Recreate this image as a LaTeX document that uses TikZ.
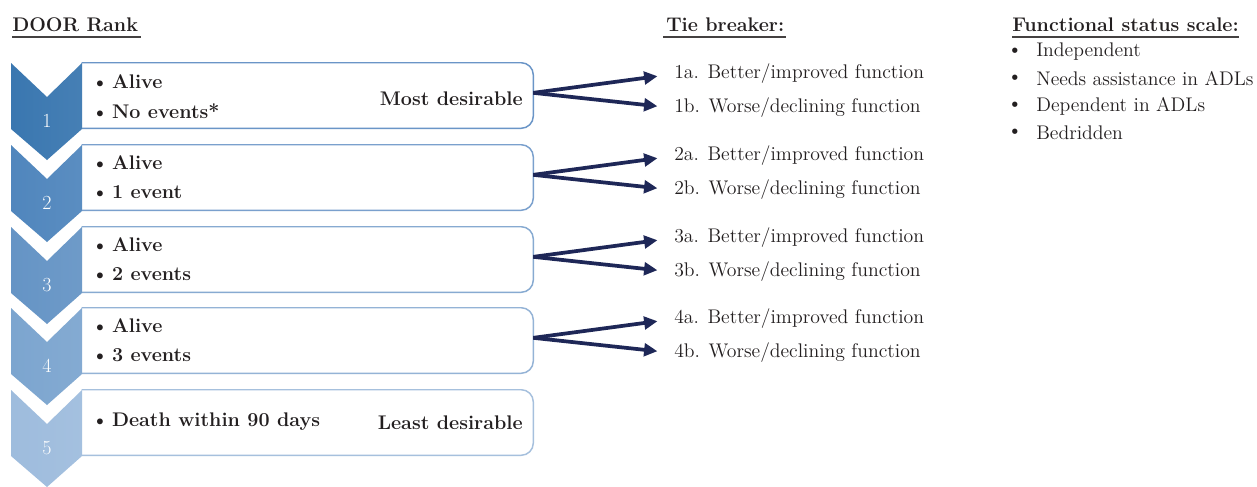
\documentclass[tikz,border=0pt]{standalone}
\usetikzlibrary{arrows.meta}
\definecolor{chA}{HTML}{3A77B0}
\definecolor{chB}{HTML}{5086BD}
\definecolor{chC}{HTML}{6594C5}
\definecolor{chD}{HTML}{7CA5CF}
\definecolor{chE}{HTML}{9EBCDD}
\definecolor{bdA}{HTML}{6A95C7}
\definecolor{bdB}{HTML}{7AA0CD}
\definecolor{bdC}{HTML}{87AAD1}
\definecolor{bdD}{HTML}{94B3D6}
\definecolor{bdE}{HTML}{A6C0DD}
\definecolor{navy}{HTML}{1E2757}
\definecolor{txtc}{HTML}{231F20}
\tikzset{
  txt/.style={font=\fontsize{14.8}{17}\selectfont, inner sep=0pt, text=txtc},
  btxt/.style={txt, font=\fontsize{14.8}{17}\selectfont\bfseries},
  head/.style={btxt, anchor=base west},
  rankbox/.style={fill=white, inner sep=0pt,
    minimum width=338.25pt, minimum height=48.75pt},
  boxline/.style={line width=1.1pt, rounded corners=9pt},
  ranknum/.style={font=\fontsize{15}{17}\selectfont, text=white, inner sep=0pt},
  arr/.style={draw=navy, line width=2.8pt, -{Triangle[length=10pt,width=9.5pt]}, shorten >=12.5pt},
  uline/.style={draw=txtc!85!white, line width=1.6pt}
}
\newcommand{\bul}{\textbullet\hspace{0.18em}}
\begin{document}
\begin{tikzpicture}[x=0.75pt,y=-0.75pt]
\useasboundingbox[fill=white] (0,0) rectangle (1257,486);

% headings
\node[head] (hdoor) at (12,31.5) {DOOR Rank};
\draw[uline] ([yshift=-3.8pt]hdoor.base west) -- ([yshift=-3.8pt,xshift=2pt]hdoor.base east);
\node[head] (htie) at (666,31.5) {Tie breaker:};
\draw[uline] ([yshift=-3.8pt,xshift=-2pt]htie.base west) -- ([yshift=-3.8pt,xshift=1pt]htie.base east);
\node[head] (hfun) at (1012,31.5) {Functional status scale:};
\draw[uline] ([yshift=-3.8pt]hfun.base west) -- ([yshift=-3.8pt]hfun.base east);

% functional list
\foreach \k/\yy/\t in {1/52/Independent, 2/79/Needs assistance in ADLs, 3/106/Dependent in ADLs, 4/133/Bedridden}{
  \node[txt] (fb\k) at (1015,\yy) {\textbullet};
  \node[txt, anchor=west] (ft\k) at (1036,\yy) {\t};
}

% boxes and chevrons
\foreach \i/\T/\c/\b in {1/63/chA/bdA, 2/145/chB/bdB, 3/227/chC/bdC, 4/308/chD/bdD, 5/390/chE/bdE}{
  \node[rankbox] (b\i) at (307.5,\T+32.5) {};
  \draw[boxline, draw=\b] (b\i.north west) -- (b\i.north east) -- (b\i.south east) -- (b\i.south west);
  \shade[left color=\c, right color=\c!94!white]
    (11,\T) -- (47,\T+34) -- (82,\T) -- (82,\T+66) -- (47,\T+97) -- (11,\T+66) -- cycle;
  \node[ranknum] (n\i) at (47,\T+58) {\i};
}

% box texts
\node[btxt, anchor=west] (a1) at (91,82) {\bul Alive};
\node[btxt, anchor=west] (e1) at (91,111) {\bul No events*};
\node[btxt, anchor=east] (most) at (523,99) {Most desirable};
\node[btxt, anchor=west] (a2) at (91,163) {\bul Alive};
\node[btxt, anchor=west] (e2) at (91,192) {\bul 1 event};
\node[btxt, anchor=west] (a3) at (91,245) {\bul Alive};
\node[btxt, anchor=west] (e3) at (91,274) {\bul 2 events};
\node[btxt, anchor=west] (a4) at (91,326) {\bul Alive};
\node[btxt, anchor=west] (e4) at (91,355) {\bul 3 events};
\node[btxt, anchor=west] (d5) at (91,422) {\bul Death within 90 days};
\node[btxt, anchor=east] (least) at (523,423) {Least desirable};

% tie breakers
\foreach \i/\T in {1/63, 2/145, 3/227, 4/308}{
  \node[txt, anchor=west] (ta\i) at (674,\T+11) {\i a. Better/improved function};
  \node[txt, anchor=west] (tb\i) at (674,\T+45) {\i b. Worse/declining function};
  \draw[arr] ([yshift=2pt]b\i.east) -- (ta\i.west);
  \draw[arr] ([yshift=2pt]b\i.east) -- (tb\i.west);
}
\end{tikzpicture}
\end{document}
